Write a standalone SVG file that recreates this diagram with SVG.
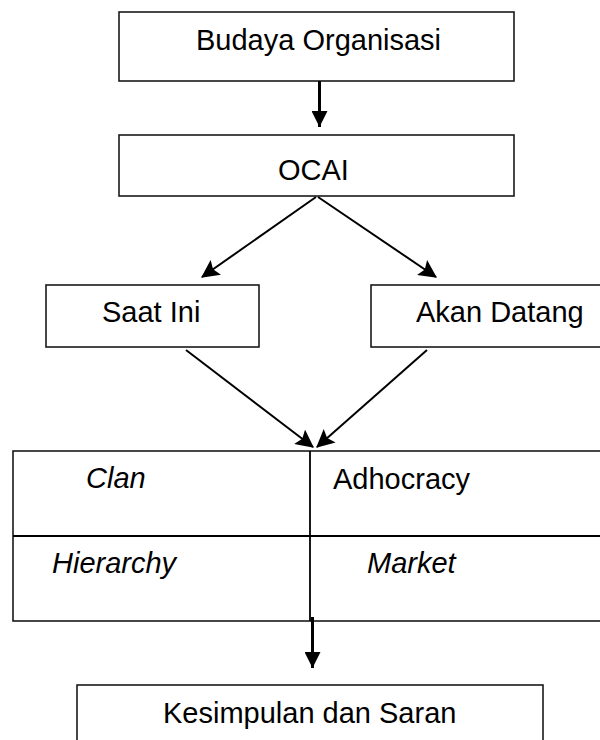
<svg xmlns="http://www.w3.org/2000/svg" width="600" height="740" viewBox="0 0 600 740">
<style>
.box{fill:#fff;stroke:#1a1a1a;stroke-width:1.6}
.t{font-family:"Liberation Sans",Arial,sans-serif;font-size:29px;fill:#000}
.i{font-style:italic}
.c{stroke:#000;fill:none}
.thin{stroke-width:2}
.thick{stroke-width:3}
</style>
<defs>
<marker id="ah" markerUnits="userSpaceOnUse" markerWidth="18" markerHeight="18" viewBox="0 0 16 16" refX="15" refY="8" orient="auto">
<path d="M0,0 L16,8 L0,16 L3,8 Z" fill="#000"/>
</marker>
<marker id="ahv" markerUnits="userSpaceOnUse" markerWidth="16" markerHeight="16" viewBox="0 0 16 16" refX="16" refY="8" orient="auto">
<path d="M0,0 L16,8 L0,16 Z" fill="#000"/>
</marker>
</defs>
<g id="budaya">
<rect class="box" x="119" y="12" width="395" height="69"/>
<text class="t" x="196" y="50">Budaya Organisasi</text>
</g>
<g id="ocai">
<rect class="box" x="119" y="135" width="395" height="61"/>
<text class="t" x="278" y="180">OCAI</text>
</g>
<g id="saat-ini">
<rect class="box" x="46" y="285" width="213" height="62"/>
<text class="t" x="102" y="322">Saat Ini</text>
</g>
<g id="akan-datang">
<rect class="box" x="371" y="285" width="260" height="62"/>
<text class="t" x="416" y="322">Akan Datang</text>
</g>
<g id="table">
<rect class="box" x="13" y="451" width="595" height="170"/>
<line class="c" stroke-width="1.8" x1="13" y1="536" x2="608" y2="536"/>
<line class="c" stroke-width="1.8" x1="310" y1="451" x2="310" y2="621"/>
<text class="t i" x="86" y="488">Clan</text>
<text class="t" x="333" y="489">Adhocracy</text>
<text class="t i" x="52" y="573">Hierarchy</text>
<text class="t i" x="367" y="573">Market</text>
</g>
<g id="kesimpulan">
<rect class="box" x="77" y="685" width="466" height="70"/>
<text class="t" x="163" y="723">Kesimpulan dan Saran</text>
</g>
<g id="connectors">
<line class="c thick" x1="319.5" y1="81" x2="319.5" y2="127" marker-end="url(#ahv)"/>
<line class="c thin" x1="316" y1="197" x2="202" y2="277" marker-end="url(#ah)"/>
<line class="c thin" x1="318" y1="197" x2="436" y2="277" marker-end="url(#ah)"/>
<line class="c thin" x1="186" y1="350" x2="313" y2="447" marker-end="url(#ah)"/>
<line class="c thin" x1="427" y1="350" x2="317" y2="447" marker-end="url(#ah)"/>
<line class="c thick" x1="312.5" y1="617" x2="312.5" y2="668" marker-end="url(#ahv)"/>
</g>
</svg>
